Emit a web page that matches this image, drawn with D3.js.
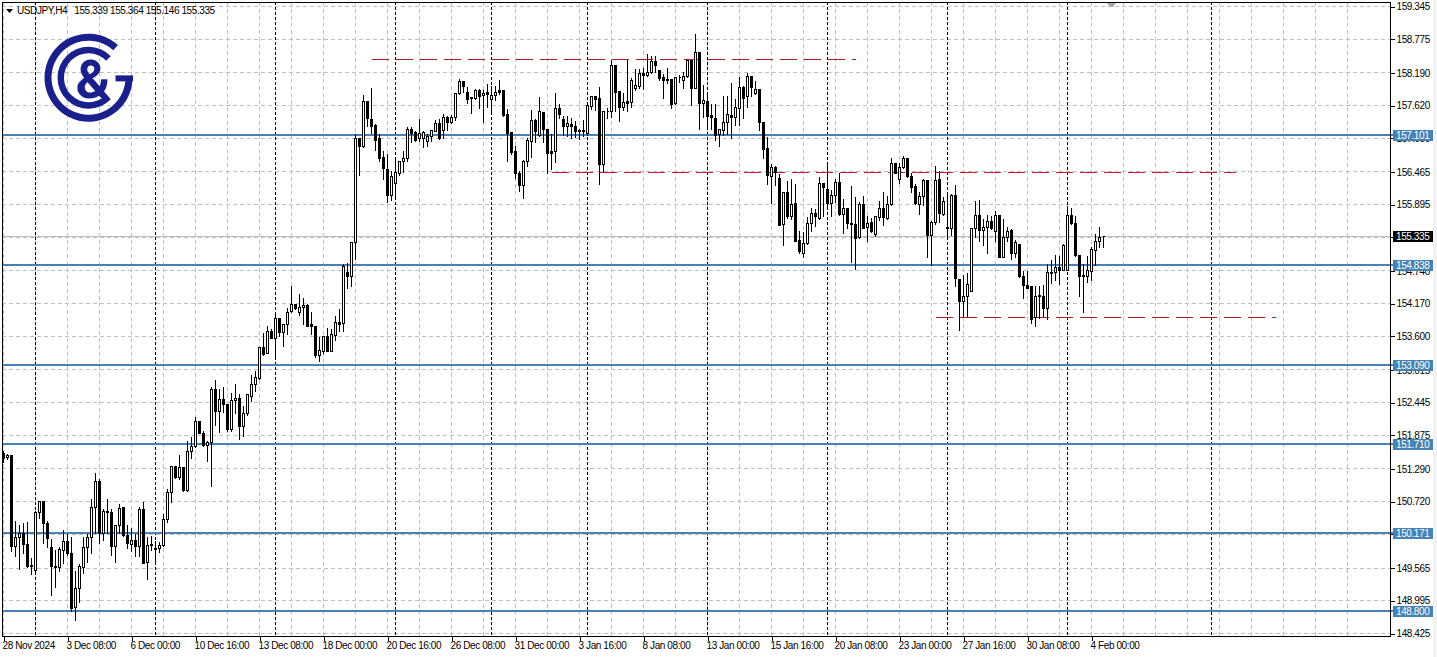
<!DOCTYPE html>
<html><head><meta charset="utf-8">
<script src="https://cdnjs.cloudflare.com/ajax/libs/d3/7.8.5/d3.min.js"></script>
<style>
html,body{margin:0;padding:0;background:#fff;overflow:hidden}
svg{display:block}
text{font-family:"Liberation Sans",Arial,sans-serif;font-size:10px;letter-spacing:-.4px;fill:#000}
</style></head><body><svg id="c" width="1437" height="657"></svg>
<script>
const open=[
151.56,151.49,151.52,149.94,150.09,150.16,149.98,149.61,149.53,150.54,
150.73,150.34,149.93,149.60,149.58,149.87,150.03,149.82,148.87,149.21,
149.58,149.93,150.10,150.62,151.07,150.17,150.55,150.54,149.94,150.31,
150.62,150.14,149.97,150.05,149.94,150.58,149.66,149.98,149.91,149.90,
149.96,150.41,150.88,151.34,151.14,151.32,150.92,151.59,151.68,152.12,
151.91,151.70,151.75,152.68,152.29,152.50,152.41,151.97,152.48,152.52,
152.03,152.26,152.55,152.76,152.87,153.41,153.30,153.68,153.56,153.91,
153.66,153.81,154.03,154.16,154.01,154.10,154.14,153.80,153.78,153.26,
153.33,153.59,153.34,153.62,153.84,153.82,154.72,154.64,155.23,157.04,
156.90,157.69,157.38,157.27,157.05,156.71,156.50,156.06,156.27,156.43,
156.64,156.69,157.20,157.15,157.04,157.04,156.99,157.08,157.17,157.30,
157.18,157.41,157.33,157.41,157.83,158.04,157.85,157.76,157.75,157.88,
157.79,157.85,157.72,157.79,157.88,157.88,157.47,157.15,156.82,156.43,
156.23,156.64,157.00,157.36,157.09,157.50,157.21,156.82,156.82,157.57,
157.38,157.26,157.29,157.26,157.18,157.19,157.14,157.61,157.78,157.74,
156.60,157.51,157.51,158.31,157.86,157.59,157.69,157.68,157.92,157.96,
158.17,158.15,158.20,158.38,158.23,158.10,158.07,158.07,157.65,158.10,
158.06,158.12,158.41,157.92,158.54,157.66,157.69,157.45,157.39,157.11,
157.19,157.32,157.44,157.41,157.57,157.94,157.77,158.13,157.83,157.90,
157.33,156.87,156.39,156.54,156.35,155.54,156.10,155.68,155.91,155.27,
155.05,155.22,155.56,155.74,155.65,156.27,156.16,155.91,156.05,156.28,
155.72,155.83,155.56,155.55,155.32,155.90,155.49,155.58,155.38,155.67,
155.83,155.66,155.90,156.61,156.34,156.54,156.70,156.39,156.21,155.90,
156.04,156.32,155.35,155.58,156.33,155.73,155.49,155.47,156.06,154.59,
154.20,154.29,154.39,155.47,155.70,155.44,155.49,155.60,155.43,155.71,
154.98,155.33,155.44,155.05,155.20,154.65,154.49,154.46,153.92,154.29,
154.30,154.08,154.70,154.71,154.80,154.75,154.75,155.70,155.56,155.01,
154.66,154.65,154.73,155.10,155.25,155.339];
const close=[
151.48,151.53,149.94,150.10,150.16,149.97,149.59,149.59,150.54,150.73,
150.34,150.08,149.59,149.57,149.88,150.03,149.82,148.86,149.21,149.59,
149.93,150.10,150.62,151.07,150.16,150.55,150.54,149.94,150.31,150.61,
150.13,150.00,150.05,149.94,150.58,149.65,149.96,149.96,149.89,149.96,
150.41,150.88,151.34,151.14,151.32,150.92,151.60,151.69,152.12,151.91,
151.70,151.75,152.68,152.29,152.50,152.41,151.97,152.48,152.52,152.03,
152.26,152.59,152.76,152.88,153.41,153.29,153.68,153.56,153.91,153.66,
153.81,154.02,154.16,154.08,154.10,154.14,153.78,153.77,153.26,153.35,
153.60,153.34,153.63,153.84,153.81,154.82,154.64,155.23,157.04,156.90,
157.69,157.40,157.26,157.01,156.70,156.52,156.06,156.39,156.45,156.64,
156.69,157.20,157.14,157.01,157.13,157.15,157.08,157.19,157.30,157.04,
157.41,157.33,157.41,157.83,158.04,157.95,157.73,157.74,157.88,157.78,
157.83,157.82,157.79,157.85,157.85,157.44,157.14,156.81,156.43,156.23,
156.64,157.01,157.36,157.16,157.51,157.20,156.78,156.79,157.57,157.46,
157.26,157.30,157.25,157.17,157.17,157.17,157.62,157.78,157.72,156.60,
157.51,157.52,158.31,157.85,157.59,157.67,157.66,158.06,157.97,158.17,
158.15,158.20,158.38,158.32,158.09,158.06,158.05,157.64,158.11,158.11,
158.12,158.41,157.92,158.54,157.66,157.70,157.43,157.41,157.10,157.20,
157.32,157.47,157.42,157.58,157.94,157.75,158.13,157.94,157.90,157.32,
156.86,156.40,156.54,156.45,155.53,156.11,155.68,155.90,155.26,155.08,
155.22,155.56,155.74,155.68,156.26,156.20,155.92,156.05,156.28,155.72,
155.83,155.56,155.54,155.30,155.90,155.48,155.56,155.43,155.68,155.83,
155.67,155.90,156.61,156.44,156.54,156.70,156.38,156.20,155.91,156.04,
156.32,155.35,155.58,156.32,155.74,155.95,155.47,156.06,154.60,154.20,
154.30,154.51,155.48,155.70,155.44,155.49,155.60,155.47,155.71,154.98,
155.33,155.43,155.05,155.23,154.64,154.49,154.44,153.90,154.30,154.31,
154.08,154.71,154.72,154.80,154.75,155.19,155.70,155.56,155.00,154.64,
154.64,154.75,155.11,155.25,155.33,155.335];
const high=[
151.62,151.56,151.53,150.40,150.32,150.36,150.37,149.75,150.57,150.75,
150.74,150.40,150.08,149.88,149.94,150.24,150.17,150.12,149.53,149.64,
150.11,150.17,150.78,151.23,151.13,150.60,150.77,150.60,150.32,150.69,
150.63,150.32,150.27,150.17,150.63,150.72,150.11,150.14,150.05,150.02,
150.52,150.95,151.35,151.35,151.55,151.33,151.79,151.85,152.20,152.13,
151.96,151.79,152.72,152.85,152.69,152.73,152.43,152.62,152.78,152.61,
152.40,152.61,152.94,153.01,153.42,153.66,153.79,153.74,154.00,153.93,
153.82,154.11,154.49,154.17,154.35,154.28,154.17,154.03,153.78,153.59,
153.60,153.75,153.74,153.97,154.08,154.87,154.88,155.26,157.13,157.06,
157.81,157.71,157.94,157.30,157.13,156.84,156.78,156.49,156.69,156.65,
156.83,157.26,157.25,157.19,157.40,157.19,157.13,157.21,157.37,157.39,
157.48,157.45,157.47,157.84,158.09,158.06,157.95,157.76,157.91,157.91,
157.90,158.00,157.97,157.97,158.07,157.90,157.56,157.16,156.93,156.49,
156.68,157.07,157.55,157.39,157.78,157.51,157.21,157.13,157.85,157.66,
157.45,157.45,157.41,157.36,157.22,157.37,157.63,157.80,157.80,157.95,
157.54,157.59,158.42,158.32,157.87,157.85,158.42,158.10,158.26,158.26,
158.29,158.53,158.49,158.49,158.24,158.17,158.28,158.08,158.12,158.16,
158.22,158.42,158.42,158.87,158.55,157.98,157.83,157.66,157.66,157.21,
157.79,157.80,158.02,157.74,158.12,157.97,158.19,158.15,158.06,157.91,
157.33,157.08,156.61,156.58,156.43,156.12,156.32,156.35,156.27,155.45,
155.42,155.69,155.84,155.83,156.38,156.28,156.60,156.16,156.35,156.46,
156.00,155.84,156.23,156.03,155.95,156.06,155.70,155.67,155.69,155.96,
156.12,156.06,156.71,156.63,156.62,156.75,156.72,156.46,156.26,156.12,
156.35,156.34,155.62,156.58,156.49,156.03,156.09,156.09,156.25,154.60,
154.68,154.72,155.49,155.96,155.98,155.65,155.73,155.71,155.80,155.73,
155.65,155.52,155.48,155.29,155.22,154.74,154.74,154.46,154.49,154.49,
154.51,154.87,154.94,155.03,155.01,155.22,155.88,155.85,155.71,155.02,
154.87,155.01,155.16,155.40,155.52,155.364];
const low=[
151.40,151.46,149.85,149.76,149.54,149.82,149.58,149.45,149.45,150.43,
149.99,149.93,149.09,149.22,149.50,149.64,149.78,148.80,148.65,148.96,
149.47,149.66,149.82,150.17,149.99,150.05,150.17,149.79,149.66,150.17,
150.12,149.91,149.85,149.76,149.76,149.64,149.36,149.87,149.65,149.83,
149.94,150.36,150.70,151.12,151.10,150.90,150.90,151.47,151.67,151.90,
151.69,151.42,150.99,152.04,151.92,152.27,151.94,151.94,152.26,151.81,
151.86,152.23,152.46,152.64,152.85,153.27,153.30,153.56,153.24,153.59,
153.43,153.64,154.01,154.06,153.97,153.80,153.77,153.64,153.24,153.16,
153.30,153.33,153.33,153.53,153.68,153.68,154.43,154.46,154.93,156.40,
156.89,157.25,157.13,156.83,156.64,156.33,155.94,155.96,156.03,156.40,
156.45,156.65,156.97,157.00,156.99,156.89,156.90,156.99,157.16,157.03,
157.04,157.19,157.30,157.36,157.81,157.85,157.65,157.49,157.72,157.57,
157.33,157.58,157.47,157.71,157.81,157.43,156.65,156.76,156.35,156.13,
156.00,156.55,156.72,156.97,157.08,156.97,156.43,156.50,156.62,157.40,
157.10,157.08,157.04,157.07,157.03,157.08,157.10,157.55,157.54,156.24,
156.46,157.39,157.41,157.51,157.35,157.54,157.52,157.58,157.88,157.91,
157.90,158.13,158.17,158.20,158.06,157.74,158.01,157.56,157.64,158.03,
157.92,158.10,157.62,157.91,157.21,157.41,157.26,157.21,157.01,156.90,
157.10,157.12,157.04,157.28,157.28,157.39,157.58,157.77,157.81,157.18,
156.69,156.24,155.92,156.23,155.53,155.19,155.65,155.63,155.25,155.05,
154.97,155.20,155.42,155.51,155.63,155.68,155.83,155.69,155.94,155.70,
155.40,155.48,154.89,154.76,155.31,155.47,155.25,155.41,155.34,155.62,
155.53,155.63,155.88,156.43,156.26,156.53,156.36,156.11,155.90,155.73,
155.88,154.98,154.83,155.54,155.58,155.71,155.29,155.36,154.46,153.71,
153.94,153.94,154.38,155.33,155.25,155.19,155.04,155.46,155.25,154.98,
154.98,155.25,154.93,154.98,154.62,154.26,154.43,153.82,153.78,153.91,
153.92,153.90,154.52,154.58,154.51,154.74,154.74,155.55,154.99,154.29,
154.01,154.53,154.58,154.83,155.15,155.146];

const priceTicks=[159.345,158.775,158.190,157.620,157.050,156.465,155.895,155.325,154.740,154.170,153.600,153.015,152.445,151.875,151.290,150.720,150.150,149.565,148.995,148.425];
const blueLevels=[157.101,154.838,153.090,151.710,150.171,148.800];
const timeLabels=["28 Nov 2024","3 Dec 08:00","6 Dec 00:00","10 Dec 16:00","13 Dec 08:00","18 Dec 00:00","20 Dec 16:00","26 Dec 08:00","31 Dec 00:00","3 Jan 16:00","8 Jan 08:00","13 Jan 00:00","15 Jan 16:00","20 Jan 08:00","23 Jan 00:00","27 Jan 16:00","30 Jan 08:00","4 Feb 00:00"];
const timeLabelStep=16, gridStep=8, gridCount=43;
const weekBars=[8,38,68,98,122,146,176,206,236,266,302];
const trendStart=[92,137,233], trendEnd=[213,308,318], trendPrice=[158.418,156.452,153.93], trendColor=["#a52222","#c4202c","#a52222"];
const lastPrice=155.335;
const title="USDJPY,H4   155.339 155.364 155.146 155.335";

const W=1437,H=657,L=2,T=2,R=1390,B=636;
const x=d3.scaleLinear().domain([0,1]).range([3.5,7.5]);
const y=d3.scaleLinear().domain([159.345,148.425]).range([6,633]);
const cy=v=>Math.round(y(v))+.5;
const svg=d3.select("#c");
const crisp=svg.append("g").attr("shape-rendering","crispEdges");

crisp.append("rect").attr("x",1433).attr("y",0).attr("width",4).attr("height",H).attr("fill","#f2f2f2");

// grid
const grid=crisp.append("g").attr("stroke","#c0c0c0").attr("stroke-dasharray","4,3");
grid.selectAll(".h").data(priceTicks).join("line").attr("x1",L).attr("x2",R).attr("y1",cy).attr("y2",cy);
grid.selectAll(".v").data(d3.range(gridCount)).join("line").attr("x1",d=>x(d*gridStep)).attr("x2",d=>x(d*gridStep)).attr("y1",T).attr("y2",B);

// last price
crisp.append("line").attr("x1",L).attr("x2",R).attr("y1",cy(lastPrice)).attr("y2",cy(lastPrice)).attr("stroke","#bdbdbd");

// week separators
crisp.append("g").attr("stroke","#000").attr("stroke-dasharray","3,2").selectAll("line").data(weekBars).join("line")
 .attr("x1",d=>x(d)).attr("x2",d=>x(d)).attr("y1",T).attr("y2",B);

// blue levels
crisp.append("g").attr("stroke","#4682b4").attr("stroke-width",2).selectAll("line").data(blueLevels).join("line")
 .attr("x1",L).attr("x2",1393).attr("y1",d=>Math.round(y(d))).attr("y2",d=>Math.round(y(d)));

// trend dashes
crisp.append("g").selectAll("line").data(trendPrice).join("line")
 .attr("x1",(d,i)=>x(trendStart[i])).attr("x2",(d,i)=>x(trendEnd[i]))
 .attr("y1",cy).attr("y2",cy).attr("stroke",(d,i)=>trendColor[i]).attr("stroke-dasharray","17.3,6.7");

// candles
const candles=crisp.append("g").attr("stroke","#000");
open.forEach((o,i)=>{
  const c=close[i],cx=x(i);
  candles.append("line").attr("x1",cx).attr("x2",cx).attr("y1",cy(high[i])).attr("y2",cy(low[i])+.5);
  const t=cy(Math.max(o,c)),b=cy(Math.min(o,c));
  const p=d3.path();p.moveTo(cx-1,t);p.lineTo(cx+1,t);p.lineTo(cx+1,b);p.lineTo(cx-1,b);p.closePath();
  candles.append("path").attr("d",p.toString()).attr("fill",c>=o?"#fff":"#000");
});

// frame
crisp.append("rect").attr("x",L+.5).attr("y",T+.5).attr("width",R-L).attr("height",B-T).attr("fill","none").attr("stroke","#000");

// right axis
const ya=svg.append("g").attr("transform",`translate(${R+.5},0.5)`)
 .call(d3.axisRight(y).tickValues(priceTicks).tickFormat(d3.format(".3f")).tickSize(4).tickPadding(2));
ya.select(".domain").remove();
ya.selectAll(".tick line").attr("stroke","#000").attr("shape-rendering","crispEdges");
ya.selectAll(".tick text").attr("font-size",null).attr("font-family",null);

// bottom axis
const tickBars=timeLabels.map((_,i)=>i*timeLabelStep);
const xa=svg.append("g").attr("transform",`translate(0,${B+.5})`)
 .call(d3.axisBottom(x).tickValues(tickBars).tickFormat((d,i)=>timeLabels[i]).tickSize(4).tickPadding(1));
xa.select(".domain").remove();
xa.selectAll(".tick line").attr("stroke","#000").attr("shape-rendering","crispEdges");
xa.selectAll(".tick text").attr("text-anchor","start").attr("x",-1.5).attr("font-size",null).attr("font-family",null);

// tags
const tag=(v,fill)=>{
  const g=svg.append("g");
  g.append("rect").attr("x",1393).attr("y",Math.round(y(v))-5).attr("width",39.5).attr("height",11).attr("fill",fill).attr("shape-rendering","crispEdges");
  g.append("text").attr("x",1396).attr("y",Math.round(y(v))+4).style("fill","#fff").text(d3.format(".3f")(v));
};
blueLevels.forEach(v=>tag(v,"#4682b4"));
tag(lastPrice,"#000");

// title
svg.append("path").attr("d",d3.line()([[6,9],[13,9],[9.5,13]])+"Z").attr("fill","#000");
svg.append("text").attr("x",17).attr("y",14).attr("xml:space","preserve").style("white-space","pre").text(title);
svg.append("path").attr("d",d3.line()([[1107,3],[1116,3],[1113,7],[1110,7]])+"Z").attr("fill","#aaaaaa");

// logo
const navy="#1a1f8c",lg=svg.append("g").attr("transform","translate(88.5,77.7)").attr("fill",navy);
const rad=Math.PI/180;
lg.append("path").attr("d",d3.arc()({innerRadius:37,outerRadius:44,startAngle:88*rad,endAngle:402*rad}));
lg.append("path").attr("d",d3.arc()({innerRadius:24.5,outerRadius:31,startAngle:134*rad,endAngle:406*rad}));
lg.append("rect").attr("x",27).attr("y",-2.3).attr("width",17.5).attr("height",6);
lg.append("text").attr("x",-13).attr("y",20.5).attr("text-anchor","start")
  .style("font-family","Roboto").style("font-size","53px").style("font-weight","700").style("letter-spacing","0").style("fill",navy).text("&");
</script></body></html>
